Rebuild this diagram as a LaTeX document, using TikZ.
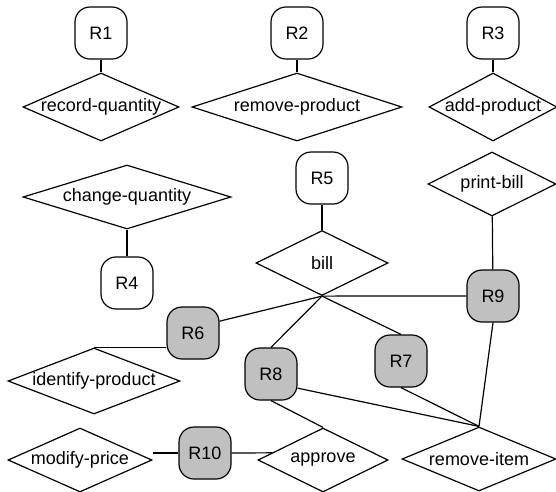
\documentclass[tikz,border=0pt]{standalone}
\usepackage{fontspec}
\setmainfont{Liberation Sans}
\usetikzlibrary{shapes.geometric}
\definecolor{rolegray}{RGB}{192,192,192}

\begin{document}
\begin{tikzpicture}[x=1pt, y=-1pt, line width=1.2pt,
  font=\fontsize{18}{21}\selectfont,
  rbox/.style={draw, rectangle, rounded corners=15pt, minimum width=52pt,
    minimum height=52pt, inner sep=0pt},
  rboxg/.style={rbox, fill=rolegray},
  rel/.style 2 args={draw, diamond, inner sep=0pt, minimum width=#1,
    minimum height=#2}]

\useasboundingbox (0,0) rectangle (556,491);

%--- Top row ---
\node[rbox] (R1) at (101,33) {R1};
\node[rbox] (R2) at (297,33) {R2};
\node[rbox] (R3) at (493,33) {R3};

\node[rel={156pt}{68pt}] (recq) at (101,107) {\makebox[0pt]{record-quantity}};
\node[rel={210pt}{68pt}] (remp) at (297,107) {\makebox[0pt]{remove-product}};
\node[rel={128pt}{68pt}] (addp) at (493,107) {\makebox[0pt]{add-product}};

\draw (R1) -- (recq);
\draw (R2) -- (remp);
\draw (R3) -- (addp);

%--- Middle ---
\node[rel={208pt}{64pt}] (chq) at (127,197) {\makebox[0pt]{change-quantity}};
\node[rbox] (R4) at (127,283) {R4};
\draw (chq) -- (R4);

\node[rbox] (R5) at (322,178) {R5};
\node[rel={132pt}{65pt}] (bill) at (322,263) {\makebox[0pt]{bill}};
\draw (R5) -- (bill);

\node[rel={128pt}{64pt}] (prb) at (492,184) {\makebox[0pt]{print-bill}};
\node[rboxg] (R9) at (493,296) {R9};
\draw (prb) -- (R9);

%--- Shaded boxes ---
\node[rboxg] (R6) at (193,333) {R6};
\node[rboxg] (R8) at (271,374) {R8};
\node[rboxg] (R7) at (401,361) {R7};
\node[rboxg] (R10) at (205,453) {R10};

\node[rel={172pt}{66pt}] (idp) at (94,381) {\makebox[0pt]{identify-product}};

% lines out of bill
\draw (bill.south) -- (R6.24);
\draw (bill.south) -- (R8.north);
\draw (bill.south) -- (R7.north);
\draw (bill.south) -- (R9.west);

\draw (idp.north) -- (idp.north -| R6.west);

%--- Bottom row ---
\node[rel={144pt}{64pt}] (modp) at (80,460) {\makebox[0pt]{modify-price}};
\node[rel={130pt}{64pt}] (appr) at (323,460) {\makebox[0pt]{approve}};
\node[rel={154pt}{64pt}] (remi) at (479,459) {\makebox[0pt]{remove-item}};

\draw (R10.west) -- (R10.west -| modp.east);
\draw (R10.east) -- (appr.172);
\draw (R8.south) -- (appr.north);

% lines into remove-item
\draw (R8.-28) -- (remi.north);
\draw (R7.south) -- (remi.north);
\draw (R9.south) -- (remi.north);

\end{tikzpicture}
\end{document}
